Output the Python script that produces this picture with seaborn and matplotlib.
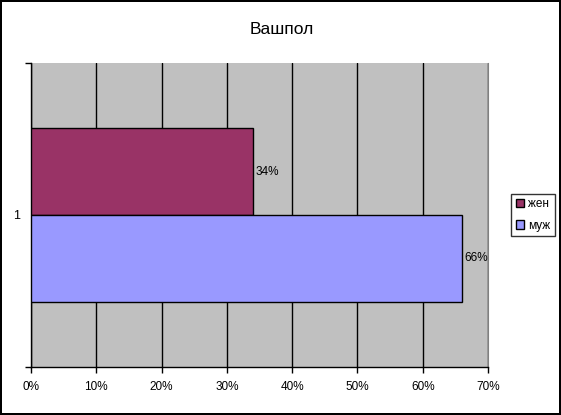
import pandas as pd
import seaborn as sns
import matplotlib.pyplot as plt
from matplotlib.ticker import FixedLocator

# Data
categories = ['1', '1']
sexes = ['жен', 'муж']
shares = [34, 66]
bar_colors = ['#993366', '#9999FF']
x_ticks = [0, 10, 20, 30, 40, 50, 60, 70]

df = pd.DataFrame({'cat': categories, 'sex': sexes, 'share': shares})

sns.set_style('white')
plt.rcParams['font.family'] = ['Liberation Sans', 'DejaVu Sans']
plt.rcParams['text.color'] = 'black'
plt.rcParams['xtick.color'] = 'black'
plt.rcParams['ytick.color'] = 'black'

fig = plt.figure(figsize=(5.61, 4.15), dpi=100, edgecolor='black', linewidth=1.5)
ax = fig.add_axes([0.0553, 0.1157, 0.8146, 0.7325])
ax.set_facecolor('#C0C0C0')

sns.barplot(data=df, x='share', y='cat', hue='sex', orient='h', palette=bar_colors,
            saturation=1, width=0.57, edgecolor='black', linewidth=1, ax=ax, zorder=3)

for cont in ax.containers:
    ax.bar_label(cont, fmt='%d%%', padding=2, fontsize=8.5, color='black')

ax.set_xlim(0, 70)
ax.set_ylim(0.5, -0.5)
ax.set_xticks(x_ticks)
ax.set_xticklabels([f'{t}%' for t in x_ticks], fontsize=8.5)
ax.set_yticks([0])
ax.set_yticklabels(['1'], fontsize=9)
ax.yaxis.set_minor_locator(FixedLocator([-0.5, 0.5]))
ax.tick_params(axis='y', which='major', length=0, pad=8)
ax.tick_params(axis='y', which='minor', length=4, width=1, color='black', direction='out', left=True)
ax.tick_params(axis='x', length=4, width=1, color='black', direction='out', bottom=True, pad=6)
ax.grid(axis='x', color='black', linewidth=1, zorder=1)
ax.set_axisbelow(True)
ax.set_xlabel('')
ax.set_ylabel('')

ax.spines['top'].set_visible(False)
ax.spines['right'].set_color('#808080')
ax.spines['left'].set_color('black')
ax.spines['bottom'].set_color('black')
for s in ['left', 'bottom']:
    ax.spines[s].set_linewidth(1)

handles, labels = ax.get_legend_handles_labels()
leg = ax.legend(handles, labels, loc='center', bbox_to_anchor=(0.95, 0.482),
                bbox_transform=fig.transFigure, fontsize=8.5, frameon=True, fancybox=False,
                edgecolor='black', handlelength=0.7, handleheight=0.7, handletextpad=0.3,
                borderpad=0.4, labelspacing=0.8, borderaxespad=0)
leg.get_frame().set_linewidth(1)

fig.text(0.502, 0.93, 'Вашпол', ha='center', va='center', fontsize=12.5)

fig.savefig('out.png', dpi=100)
